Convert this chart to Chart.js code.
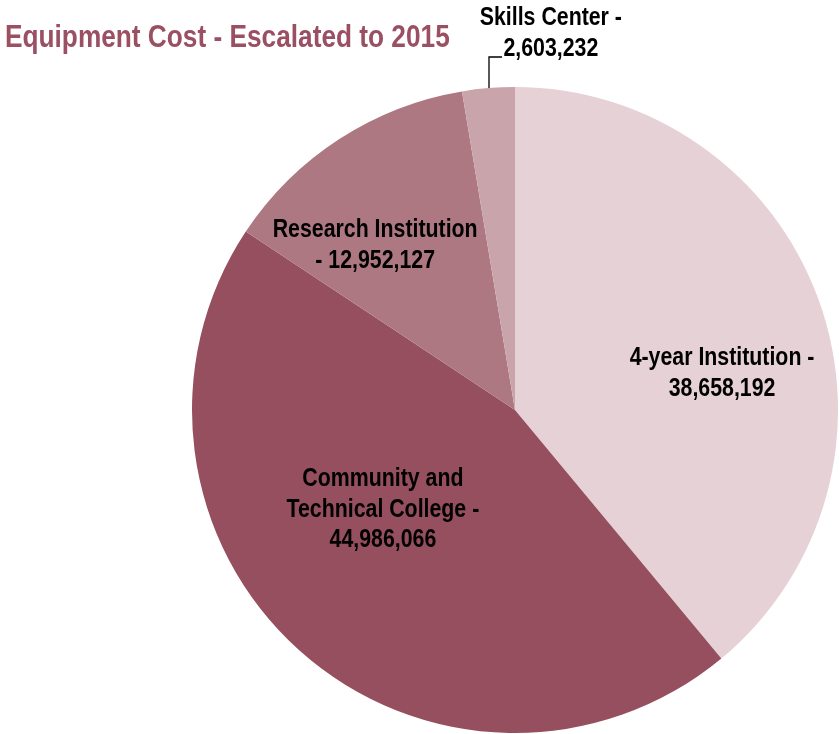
<!DOCTYPE html>
<html>
<head>
<meta charset="utf-8">
<script src="https://cdn.jsdelivr.net/npm/chart.js@4"></script>
<style>
  html, body { margin: 0; padding: 0; background: #ffffff; }
  #wrap { width: 839px; height: 734px; position: relative; }
</style>
</head>
<body>
<div id="wrap"><canvas id="pie"></canvas></div>
<script>
// Equipment cost by institution type, escalated to 2015 dollars
const categories = ["4-year Institution", "Community and Technical College", "Research Institution", "Skills Center"];
const costs = [38658192, 44986066, 12952127, 2603232];
const sliceColors = ["#E6D1D6", "#954F5E", "#AE7883", "#C9A4AA"];
const chartTitle = "Equipment Cost - Escalated to 2015";

const FONT = '"Liberation Sans", Arial, sans-serif';
const NARROW = 0.82; // condensed look: horizontal squeeze of the sans face

// Label anchors: first-line baseline, relative to pie centre, in radius units; wrap width in px
const labelPlacement = [
  { dx: 0.641, dy: -0.139, wrap: 200 },
  { dx: -0.409, dy: 0.235, wrap: 205 },
  { dx: -0.433, dy: -0.536, wrap: 215 },
  { dx: 0.111, dy: -1.192, wrap: 170 }
];

function fmt(n) { return n.toLocaleString('en-US'); }

function wrapText(ctx, text, maxW) {
  const words = text.split(' ');
  const lines = [];
  let cur = '';
  for (const w of words) {
    const test = cur ? cur + ' ' + w : w;
    if (cur && ctx.measureText(test).width * NARROW > maxW) { lines.push(cur); cur = w; }
    else cur = test;
  }
  if (cur) lines.push(cur);
  return lines;
}

function narrowText(ctx, str, x, y) {
  ctx.save();
  ctx.translate(x, y);
  ctx.scale(NARROW, 1);
  ctx.fillText(str, 0, 0);
  ctx.restore();
}

const pieLabels = {
  id: 'pieLabels',
  afterDraw(chart) {
    const ctx = chart.ctx;
    const arc = chart.getDatasetMeta(0).data[0];
    const cx = arc.x, cy = arc.y, r = arc.outerRadius;
    ctx.save();
    ctx.textBaseline = 'alphabetic';

    // title
    ctx.font = 'bold 32px ' + FONT;
    ctx.fillStyle = '#9A5062';
    ctx.textAlign = 'left';
    narrowText(ctx, chartTitle, 5, 47);

    // leader line for the small slice
    ctx.strokeStyle = '#000000';
    ctx.lineWidth = 1.3;
    ctx.beginPath();
    ctx.moveTo(cx - 26, cy - r + 1);
    ctx.lineTo(cx - 26, cy - r - 30);
    ctx.lineTo(cx - 13, cy - r - 30);
    ctx.stroke();

    // data labels
    ctx.font = 'bold 26px ' + FONT;
    ctx.fillStyle = '#000000';
    ctx.textAlign = 'center';
    const lh = 30.7;
    categories.forEach((cat, i) => {
      const p = labelPlacement[i];
      const lines = wrapText(ctx, cat + ' - ' + fmt(costs[i]), p.wrap);
      const x = cx + p.dx * r;
      const y0 = cy + p.dy * r;
      lines.forEach((ln, k) => narrowText(ctx, ln, x, y0 + k * lh));
    });
    ctx.restore();
  }
};

new Chart(document.getElementById('pie'), {
  type: 'pie',
  data: {
    labels: categories,
    datasets: [{
      data: costs,
      backgroundColor: sliceColors,
      borderWidth: 0
    }]
  },
  options: {
    responsive: true,
    maintainAspectRatio: false,
    animation: false,
    layout: { padding: { left: 192, top: 87, right: 1, bottom: 1 } },
    plugins: {
      legend: { display: false },
      title: { display: false },
      tooltip: { enabled: false }
    }
  },
  plugins: [pieLabels]
});
</script>
</body>
</html>
